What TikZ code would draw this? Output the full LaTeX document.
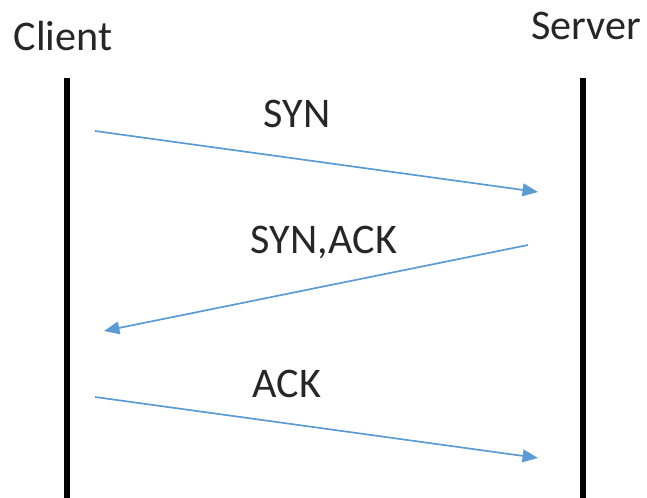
\documentclass[tikz,border=0pt]{standalone}
\usepackage{fontspec}
\setmainfont{Carlito}
\usepackage{xcolor}
\usetikzlibrary{arrows.meta}
\definecolor{msgblue}{HTML}{5B9BD5}
\definecolor{txtgray}{HTML}{262626}

\begin{document}
\begin{tikzpicture}[x=0.025cm, y=-0.025cm,
  lbl/.style={anchor=base, inner sep=0pt, text=txtgray, font=\fontsize{30}{36}\selectfont},
  life/.style={line width=3.6pt},
  msg/.style={msgblue, line width=1.2pt, -{Triangle[length=11pt,width=9pt]}}]
\useasboundingbox (0,0) rectangle (647,498);
\node[lbl] (client) at (63,51) {Client};
\node[lbl] (server) at (586,40) {Server};
\coordinate (clienttop) at (67,78);
\coordinate (clientbot) at (67,498);
\coordinate (servertop) at (583,78);
\coordinate (serverbot) at (583,498);
\draw[life] (clienttop) -- (clientbot);
\draw[life] (servertop) -- (serverbot);

\coordinate (syna) at (95,131);
\coordinate (synb) at (538,192);
\coordinate (synacka) at (528,245);
\coordinate (synackb) at (104,331);
\coordinate (acka) at (95,397);
\coordinate (ackb) at (538,458);
\draw[msg] (syna) -- (synb);
\draw[msg] (synacka) -- (synackb);
\draw[msg] (acka) -- (ackb);
\node[lbl] (synlbl) at (297,128) {SYN};
\node[lbl] (synacklbl) at (324,254) {SYN,ACK};
\node[lbl] (acklbl) at (287,398) {ACK};
\end{tikzpicture}
\end{document}
